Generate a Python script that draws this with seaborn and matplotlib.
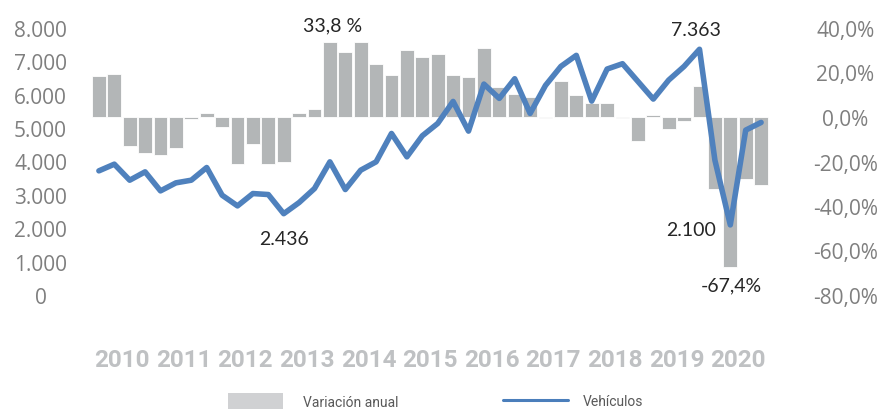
import pandas as pd
import matplotlib
matplotlib.use('Agg')
import matplotlib.pyplot as plt
import seaborn as sns
from matplotlib.patches import Patch
from matplotlib.lines import Line2D
from matplotlib.ticker import FuncFormatter, FixedLocator

# ================= DATOS =================
years = list(range(2010, 2021))
trimestres = [f'{y}-T{q}' for y in years for q in range(1, 5)]

# Vehículos por trimestre (eje izquierdo)
vehiculos = [3720, 3920, 3440, 3690, 3120, 3360, 3440, 3820, 2990, 2670,
             3040, 3010, 2436, 2770, 3190, 3990, 3160, 3740, 3990, 4840,
             4140, 4770, 5140, 5800, 4910, 6320, 5890, 6480, 5440, 6280,
             6850, 7180, 5810, 6770, 6930, 6400, 5870, 6440, 6850, 7363,
             4040, 2100, 4940, 5170]

# Variación anual en % (eje derecho)
variacion = [18.3, 19.5, -13.2, -16.3, -16.9, -13.9, -0.8, 1.8, -4.6, -21.1,
             -12.0, -21.1, -20.1, 1.8, 3.7, 33.8, 29.4, 33.6, 23.8, 18.9,
             30.0, 27.0, 28.2, 18.9, 17.8, 31.1, 13.3, 10.3, 9.1, -0.6,
             16.0, 9.9, 6.1, 6.1, -0.5, -10.9, 0.8, -5.4, -1.7, 14.1,
             -32.4, -67.4, -28.0, -30.4]

left_ticks = list(range(0, 8001, 1000))
right_ticks = list(range(-80, 41, 20))

df = pd.DataFrame({'trimestre': trimestres, 'vehiculos': vehiculos, 'variacion': variacion})
df['pos'] = range(len(df))

# ================= ESTILO =================
sns.set_style('white')
plt.rcParams['font.family'] = ['Open Sans', 'DejaVu Sans']

BAR_COLOR = '#b3b6b7'
LINE_COLOR = '#4f81bd'
TICK_COLOR = '#7f7f7f'
ANNOT_COLOR = '#262626'
YEAR_COLOR = '#bfc1c3'

fig = plt.figure(figsize=(8.82, 4.10), dpi=100)
ax = fig.add_axes([91.2 / 882, 1 - 296 / 410, 677.6 / 882, 267 / 410])
ax2 = ax.twinx()

# barras: variación anual (eje derecho)
sns.barplot(data=df, x='trimestre', y='variacion', ax=ax2, color=BAR_COLOR,
            saturation=1, width=0.9, edgecolor='white', linewidth=0.6)
# línea: vehículos (eje izquierdo), por encima de las barras
sns.lineplot(data=df, x='pos', y='vehiculos', ax=ax, color=LINE_COLOR,
             linewidth=4.0)
ax.set_zorder(ax2.get_zorder() + 1)
ax.patch.set_visible(False)

ax.set_xlim(-0.5, 43.5)
ax.set_ylim(0, 8000)
ax2.set_ylim(-80, 40)

for a in (ax, ax2):
    a.set_xlabel('')
    a.set_ylabel('')
    for s in a.spines.values():
        s.set_visible(False)

# eje izquierdo
ax.yaxis.set_major_locator(FixedLocator(left_ticks))
ax.yaxis.set_major_formatter(FuncFormatter(lambda v, p: f'{v:,.0f}'.replace(',', '.')))
ax.tick_params(axis='y', length=0, pad=36.5, labelsize=15, labelcolor=TICK_COLOR)
for lbl in ax.get_yticklabels():
    lbl.set_ha('center')

# eje derecho
ax2.yaxis.set_major_locator(FixedLocator(right_ticks))
ax2.yaxis.set_major_formatter(FuncFormatter(lambda v, p: f'{v:.1f}%'.replace('.', ',')))
ax2.tick_params(axis='y', length=0, pad=55, labelsize=15, labelcolor=TICK_COLOR)
for lbl in ax2.get_yticklabels():
    lbl.set_ha('center')

# años en el eje x (centrados en cada grupo de 4 trimestres)
ax.set_xticks([i * 4 + 1.5 for i in range(len(years))])
ax.set_xticklabels([str(y) for y in years], fontsize=17.5, fontweight='bold',
                   color=YEAR_COLOR, family=['Roboto', 'DejaVu Sans'])
ax.tick_params(axis='x', length=0, pad=38)
ax2.tick_params(axis='x', length=0, labelbottom=False)

# etiquetas de datos
afont = dict(fontsize=14, color=ANNOT_COLOR, family=['Lato', 'DejaVu Sans'],
             textcoords='offset points', annotation_clip=False, va='center')
i_max_var = variacion.index(max(variacion))
ax2.annotate('33,8 %', xy=(i_max_var, variacion[i_max_var]), xytext=(2, 12), ha='center', **afont)
ax.annotate('2.436', xy=(12, vehiculos[12]), xytext=(0, -17.5), ha='center', **afont)
ax.annotate('7.363', xy=(39, vehiculos[39]), xytext=(-2.5, 14.5), ha='center', **afont)
ax.annotate('2.100', xy=(41, vehiculos[41]), xytext=(-10, -3), ha='right', **afont)
ax2.annotate('-67,4%', xy=(41, variacion[41]), xytext=(0.5, -13), ha='center', **afont)

# leyenda (dos bloques separados como en el original)
lsize = 10
lfont = dict(family=['Liberation Sans Narrow', 'Roboto', 'DejaVu Sans'], size=lsize)
fs_px = lsize / 72 * 100
leg1 = fig.legend(handles=[Patch(facecolor='#d0d1d3', edgecolor='none')],
                  labels=['Variación anual'], loc='center left',
                  bbox_to_anchor=(228 / 882, 1 - 402 / 410), frameon=False,
                  borderpad=0, borderaxespad=0, prop=lfont,
                  handlelength=55 / fs_px, handleheight=18 / fs_px,
                  handletextpad=20 / fs_px, labelcolor='#595959')
leg2 = fig.legend(handles=[Line2D([], [], color='#4a7ebb', linewidth=2.2)],
                  labels=['Vehículos'], loc='center left',
                  bbox_to_anchor=(503 / 882, 1 - 402 / 410), frameon=False,
                  borderpad=0, borderaxespad=0, prop=lfont,
                  handlelength=65 / fs_px, handletextpad=15 / fs_px,
                  labelcolor='#595959')

fig.savefig('out.png', dpi=100)
